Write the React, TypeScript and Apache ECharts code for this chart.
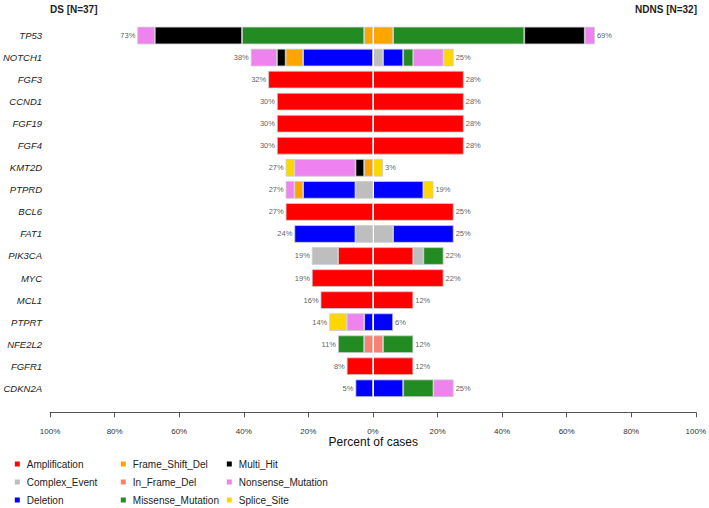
import React, { useEffect, useRef } from "react";
import * as echarts from "echarts";

const FONT = "'Liberation Sans', Arial, Helvetica, sans-serif";

const genes = [
  "TP53", "NOTCH1", "FGF3", "CCND1", "FGF19", "FGF4", "KMT2D", "PTPRD", "BCL6",
  "FAT1", "PIK3CA", "MYC", "MCL1", "PTPRT", "NFE2L2", "FGFR1", "CDKN2A",
];

const N_DS = 37;
const N_NDNS = 32;

const types = [
  "Amplification", "Complex_Event", "Deletion",
  "Frame_Shift_Del", "In_Frame_Del", "Missense_Mutation",
  "Multi_Hit", "Nonsense_Mutation", "Splice_Site",
];
const typeColors = [
  "#ff0000", "#bebebe", "#0000ff",
  "#ffa500", "#fa8072", "#228b22",
  "#000000", "#ee82ee", "#ffd700",
];

// DS cohort (left), counts of cases per gene (same order as genes)
const dsAmplification = [0, 0, 12, 11, 11, 11, 0, 0, 10, 0, 4, 7, 6, 0, 0, 3, 0];
const dsComplexEvent = [0, 0, 0, 0, 0, 0, 0, 2, 0, 2, 3, 0, 0, 0, 0, 0, 0];
const dsDeletion = [0, 8, 0, 0, 0, 0, 0, 6, 0, 7, 0, 0, 0, 1, 0, 0, 2];
const dsFrameShiftDel = [1, 2, 0, 0, 0, 0, 1, 1, 0, 0, 0, 0, 0, 0, 0, 0, 0];
const dsInFrameDel = [0, 0, 0, 0, 0, 0, 0, 0, 0, 0, 0, 0, 0, 0, 1, 0, 0];
const dsMissense = [14, 0, 0, 0, 0, 0, 0, 0, 0, 0, 0, 0, 0, 0, 3, 0, 0];
const dsMultiHit = [10, 1, 0, 0, 0, 0, 1, 0, 0, 0, 0, 0, 0, 0, 0, 0, 0];
const dsNonsense = [2, 3, 0, 0, 0, 0, 7, 1, 0, 0, 0, 0, 0, 2, 0, 0, 0];
const dsSpliceSite = [0, 0, 0, 0, 0, 0, 1, 0, 0, 0, 0, 0, 0, 2, 0, 0, 0];

// NDNS cohort (right)
const ndnsAmplification = [0, 0, 9, 9, 9, 9, 0, 0, 8, 0, 4, 7, 4, 0, 0, 4, 0];
const ndnsComplexEvent = [0, 1, 0, 0, 0, 0, 0, 0, 0, 2, 1, 0, 0, 0, 0, 0, 0];
const ndnsDeletion = [0, 2, 0, 0, 0, 0, 0, 5, 0, 6, 0, 0, 0, 2, 0, 0, 3];
const ndnsFrameShiftDel = [2, 0, 0, 0, 0, 0, 0, 0, 0, 0, 0, 0, 0, 0, 0, 0, 0];
const ndnsInFrameDel = [0, 0, 0, 0, 0, 0, 0, 0, 0, 0, 0, 0, 0, 0, 1, 0, 0];
const ndnsMissense = [13, 1, 0, 0, 0, 0, 0, 0, 0, 0, 2, 0, 0, 0, 3, 0, 3];
const ndnsMultiHit = [6, 0, 0, 0, 0, 0, 0, 0, 0, 0, 0, 0, 0, 0, 0, 0, 0];
const ndnsNonsense = [1, 3, 0, 0, 0, 0, 0, 0, 0, 0, 0, 0, 0, 0, 0, 0, 2];
const ndnsSpliceSite = [0, 1, 0, 0, 0, 0, 1, 1, 0, 0, 0, 0, 0, 0, 0, 0, 0];

const xTicks = [-100, 100, 20]; // min, max, interval

const dsCounts = [
  dsAmplification, dsComplexEvent, dsDeletion, dsFrameShiftDel, dsInFrameDel,
  dsMissense, dsMultiHit, dsNonsense, dsSpliceSite,
];
const ndnsCounts = [
  ndnsAmplification, ndnsComplexEvent, ndnsDeletion, ndnsFrameShiftDel, ndnsInFrameDel,
  ndnsMissense, ndnsMultiHit, ndnsNonsense, ndnsSpliceSite,
];

function roundHalfEven(v: number): number {
  const f = Math.floor(v);
  const d = v - f;
  if (Math.abs(d - 0.5) < 1e-9) return f % 2 === 0 ? f : f + 1;
  return Math.round(v);
}

export default function App() {
  const ref = useRef<HTMLDivElement>(null);

  useEffect(() => {
    if (!ref.current) return;
    const chart = echarts.init(ref.current, undefined, { renderer: "svg" });

    const dsTotals = genes.map((_, g) => dsCounts.reduce((s, arr) => s + arr[g], 0));
    const ndnsTotals = genes.map((_, g) => ndnsCounts.reduce((s, arr) => s + arr[g], 0));

    const barStyle = (color: string) => ({
      color,
      borderColor: "#cccccc",
      borderWidth: 0.8,
    });

    const series: any[] = [];
    types.forEach((t, i) => {
      series.push({
        type: "bar",
        name: t,
        stack: "all",
        barWidth: 17.6,
        itemStyle: barStyle(typeColors[i]),
        data: dsCounts[i].map((c) => (c ? -(c / N_DS) * 100 : "-")),
      });
    });
    types.forEach((t, i) => {
      series.push({
        type: "bar",
        name: t,
        stack: "all",
        barWidth: 17.6,
        itemStyle: barStyle(typeColors[i]),
        data: ndnsCounts[i].map((c) => (c ? (c / N_NDNS) * 100 : "-")),
      });
    });

    const labelStyle = {
      show: true,
      fontSize: 7.5,
      color: "#333",
      fontFamily: FONT,
      distance: 2,
    };

    series.push({
      type: "scatter",
      name: "dsLabels",
      symbolSize: 0,
      z: 5,
      silent: true,
      data: genes.map((g, i) => [-(dsTotals[i] / N_DS) * 100, g]),
      label: {
        ...labelStyle,
        position: "left",
        formatter: (p: any) => roundHalfEven(Math.abs(p.value[0])) + "%",
      },
      markLine: {
        silent: true,
        symbol: ["none", "none"],
        label: { show: false },
        lineStyle: { color: "#ffffff", width: 1, type: "solid" },
        data: [{ xAxis: 0 }],
      },
    });
    series.push({
      type: "scatter",
      name: "ndnsLabels",
      symbolSize: 0,
      z: 5,
      silent: true,
      data: genes.map((g, i) => [(ndnsTotals[i] / N_NDNS) * 100, g]),
      label: {
        ...labelStyle,
        position: "right",
        formatter: (p: any) => roundHalfEven(Math.abs(p.value[0])) + "%",
      },
    });

    const legendLefts = [14.8, 120.8, 226.8];
    const legends = [0, 1, 2].map((col) => ({
      data: types.slice(col * 3, col * 3 + 3),
      orient: "vertical",
      left: legendLefts[col],
      top: 458,
      height: 50,
      padding: 0,
      itemWidth: 5,
      itemHeight: 5,
      itemGap: 6,
      icon: "rect",
      selectedMode: false,
      itemStyle: { borderWidth: 0 },
      textStyle: {
        fontSize: 10,
        color: "#222",
        lineHeight: 12,
        fontFamily: FONT,
        padding: [0, 0, 0, 2],
      },
    }));

    chart.setOption({
      animation: false,
      backgroundColor: "#ffffff",
      textStyle: { fontFamily: FONT },
      grid: { left: 49.8, right: 12.2, top: 24.5, bottom: 108.7, containLabel: false },
      xAxis: {
        type: "value",
        min: xTicks[0],
        max: xTicks[1],
        interval: xTicks[2],
        offset: 13,
        axisLine: { show: true, lineStyle: { color: "#555", width: 1 } },
        axisTick: { show: true, length: 5, lineStyle: { color: "#555" } },
        splitLine: { show: false },
        axisLabel: {
          fontSize: 8,
          color: "#333",
          margin: 15,
          fontFamily: FONT,
          formatter: (v: number) => Math.abs(v) + "%",
        },
      },
      yAxis: {
        type: "category",
        data: genes,
        inverse: true,
        axisLine: { show: false },
        axisTick: { show: false },
        axisLabel: {
          fontSize: 9.5,
          fontStyle: "italic",
          color: "#222",
          margin: 8,
          fontFamily: FONT,
        },
      },
      legend: legends,
      graphic: [
        {
          type: "text",
          left: 50,
          top: 4,
          style: { text: "DS [N=37]", fontSize: 10, fontWeight: "bold", fill: "#222", font: `bold 10px ${FONT}` },
        },
        {
          type: "text",
          right: 12,
          top: 4,
          style: { text: "NDNS [N=32]", fontSize: 10, fontWeight: "bold", fill: "#222", font: `bold 10px ${FONT}` },
        },
        {
          type: "text",
          x: 373.3,
          y: 441.7,
          style: {
            text: "Percent of cases",
            fill: "#111",
            font: `12px ${FONT}`,
            align: "center",
            verticalAlign: "middle",
          },
        },
      ],
      series,
    });

    return () => chart.dispose();
  }, []);

  return (
    <div
      ref={ref}
      style={{ position: "fixed", left: 0, top: 0, width: 709, height: 508, background: "#fff" }}
    />
  );
}
